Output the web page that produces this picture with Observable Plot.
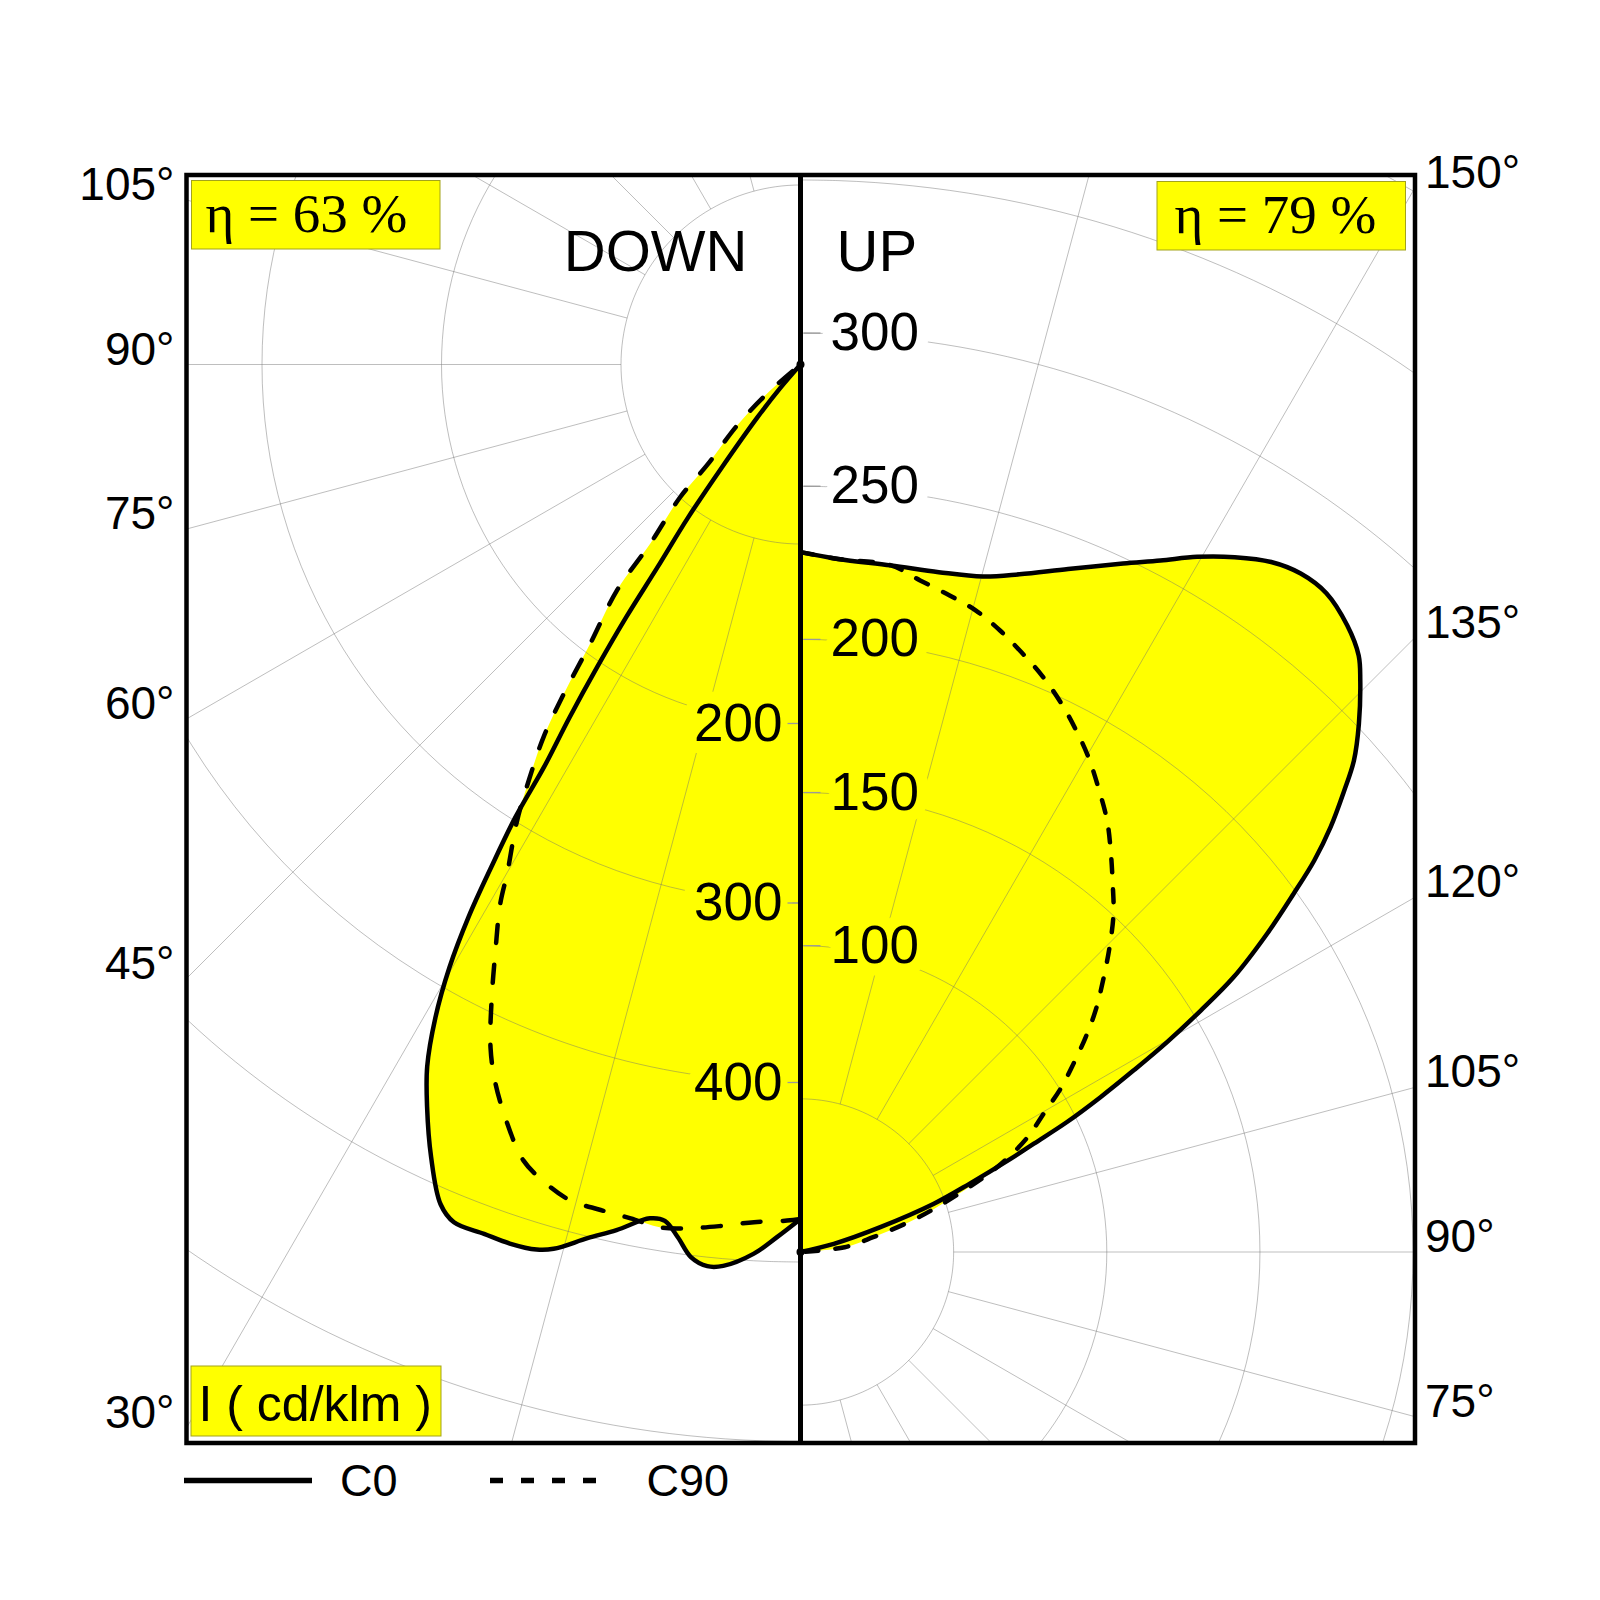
<!DOCTYPE html>
<html>
<head>
<meta charset="utf-8">
<script src="https://cdn.jsdelivr.net/npm/d3@7"></script>
<script src="https://cdn.jsdelivr.net/npm/@observablehq/plot@0.6"></script>
<style>
  html, body { margin: 0; padding: 0; background: #ffffff; }
  svg { display: block; }
</style>
</head>
<body>
<div id="chart"></div>
<script>
// ---------------- DATA (angle from nadir in degrees, intensity in cd/klm) ----------------
// DOWN half, plane C0 (solid)
const downC0Angles = [0, 1.5, 3.0, 4.9, 5.9, 7.0, 8.0, 9.0, 10.0, 12.0, 13.7, 15.6, 16.6, 18.3, 20.0, 22.0, 23.2, 25.0, 26.7, 28.0, 29.2, 30.2, 31.0, 31.6, 32.2, 32.5, 33.2, 33.9, 34.6, 35.2, 36.3, 37.4, 39.2, 40.8, 42.0];
const downC0Values = [476, 486, 496, 504, 505, 501, 491, 483, 483, 493, 501, 511.5, 514.5, 515.8, 515.4, 515.4, 509, 487, 463, 443, 417, 389, 359, 329, 298, 266, 235, 203, 171, 138, 106, 72, 38, 17, 0];
// DOWN half, plane C90 (dashed)
const downC90Angles = [0, 0.9, 3.1, 5.3, 7.25, 9.2, 11.25, 13.3, 15.4, 17.2, 19.2, 21.1, 23.0, 24.4, 25.9, 27.5, 29.1, 30.0, 31.8, 33.2, 34.6, 35.7, 37.0, 39.1, 40.0, 42.2, 42.9, 46.1, 49.0, 52];
const downC90Values = [476, 477, 478.5, 482, 485, 487, 485, 484, 483, 478, 469.5, 453.5, 435, 418, 394, 368, 344, 326.5, 300, 276, 252, 226, 194.5, 162, 130, 100, 76, 49, 25, 0];
// UP half, plane C0 (solid)
const upC0Angles = [180, 176.9, 172.5, 168.5, 164.9, 162.1, 158.6, 154.9, 152.5, 150.3, 148.0, 145.7, 143.6, 141.4, 138.9, 136.9, 135.6, 133.4, 131.6, 130.3, 128.7, 127.3, 126.0, 124.3, 122.4, 121.1, 119.8, 118.6, 117.3, 116.0, 114.9, 113.9, 112.0, 109.9, 107.3, 103.8, 100];
const upC0Values = [228.5, 226.6, 226.1, 226.5, 228.4, 232.5, 239.5, 248.2, 254.5, 261.3, 267.5, 272.7, 275.2, 275.2, 271.5, 266.7, 261.2, 250.9, 241.6, 232.7, 221.7, 210.8, 199.0, 184.4, 167.5, 152.6, 137.9, 123.9, 110.2, 96.8, 84.0, 75.0, 59.6, 46.3, 27.3, 11.2, 0];
// UP half, plane C90 (dashed)
const upC90Angles = [180, 176.9, 172.5, 169.9, 167.2, 164.7, 162.2, 159.8, 157.3, 154.7, 152.3, 149.8, 147.1, 144.6, 142.3, 139.7, 137.2, 134.6, 131.9, 129.3, 127.0, 124.6, 122.1, 120.0, 116.8, 114.5, 112.4, 107.9, 105.1, 101.5, 96.2, 90];
const upC90Values = [228.5, 226.6, 226.1, 222.7, 219.8, 217.1, 213.1, 208.7, 204.1, 198.6, 193, 186.9, 179.5, 172.8, 165.6, 157.6, 150.4, 141.7, 132.7, 124.5, 116.6, 108.3, 100.2, 92.5, 83, 74.7, 65.7, 45.8, 35.4, 24.2, 14.5, 0];

// grid / tick labels
const downRings = [100, 200, 300, 400, 500, 600, 700];
const upRings = [50, 100, 150, 200, 250, 300, 350, 400];
const spokeAngles = [0, 15, 30, 45, 60, 75, 90, 105, 120, 135, 150, 165, 180];
const downTickValues = [200, 300, 400];
const upTickValues = [100, 150, 200, 250, 300];
const downAngleLabels = [105, 90, 75, 60, 45, 30];
const upAngleLabels = [150, 135, 120, 105, 90, 75];
const etaDown = "η = 63 %";
const etaUp = "η = 79 %";
const unitLabel = "I ( cd/klm )";
const legendItems = ["C0", "C90"];

// ---------------- LAYOUT ----------------
const W = 1600, H = 1600;
const frame = {left: 186, right: 1414.5, top: 174.5, bottom: 1442.5};
const axisX = 800;
const downPole = {x: 800, y: 364, k: 1.795};     // px per cd/klm
const upPole = {x: 800, y: 1251.5, k: 3.063};
const rad = d => d * Math.PI / 180;
const downPt = (a, I) => ({x: downPole.x - I * downPole.k * Math.sin(rad(a)), y: downPole.y + I * downPole.k * Math.cos(rad(a))});
const upPt = (a, I) => ({x: upPole.x + I * upPole.k * Math.sin(rad(a)), y: upPole.y + I * upPole.k * Math.cos(rad(a))});

const mk = (angles, values, f) => angles.map((a, i) => ({angle: a, I: values[i], ...f(a, values[i])}));
const dC0 = mk(downC0Angles, downC0Values, downPt);
const dC90 = mk(downC90Angles, downC90Values, downPt);
const uC0 = mk(upC0Angles, upC0Values, upPt);
const uC90 = mk(upC90Angles, upC90Values, upPt);

// grid rings
const ringPts = [];
for (const I of downRings) for (let a = 0; a <= 180; a += 2) ringPts.push({ring: "d" + I, ...downPt(a, I)});
for (const I of upRings) for (let a = 0; a <= 180; a += 2) ringPts.push({ring: "u" + I, ...upPt(a, I)});
// spokes
const spokes = [];
for (const a of spokeAngles) {
  const p1 = downPt(a, downRings[0]), p2 = downPt(a, 900);
  spokes.push({x1: p1.x, y1: p1.y, x2: p2.x, y2: p2.y});
  const q1 = upPt(a, upRings[0]), q2 = upPt(a, 600);
  spokes.push({x1: q1.x, y1: q1.y, x2: q2.x, y2: q2.y});
}
// value labels on the vertical axis
const yellow = "#ffff00";
const downLabels = downTickValues.map(v => ({v, label: String(v), y: downPt(0, v).y, inside: v < downC0Values[0]}));
const upLabels = upTickValues.map(v => ({v, label: String(v), y: upPt(180, v).y, inside: v < upC0Values[0]}));
// angle labels at the frame edges
const leftAngle = downAngleLabels.map(a => ({label: a + "°", y: downPt(a, (axisX - frame.left) / (downPole.k * Math.sin(rad(a)))).y}));
const rightAngle = upAngleLabels.map(a => ({label: a + "°", y: upPt(a, (frame.right - axisX) / (upPole.k * Math.sin(rad(a)))).y}));

const grid = {stroke: "#6e6e6e", strokeOpacity: 0.45, strokeWidth: 1, clip: true};
const sans = "'Liberation Sans', Arial, Helvetica, sans-serif";
const serif = "'Liberation Serif', 'Times New Roman', serif";

const boxes = [
  {x1: 191.5, x2: 440, y1: 180.5, y2: 249},
  {x1: 1157, x2: 1405.5, y1: 181.5, y2: 250},
  {x1: 191, x2: 441, y1: 1366, y2: 1436}
];

const chart = Plot.plot({
  width: W, height: H,
  marginLeft: frame.left, marginRight: W - frame.right,
  marginTop: frame.top, marginBottom: H - frame.bottom,
  x: {domain: [frame.left, frame.right], axis: null},
  y: {domain: [frame.bottom, frame.top], axis: null},
  style: {fontFamily: sans, background: "#ffffff", color: "black", overflow: "visible"},
  marks: [
    // fills (union of both planes)
    Plot.line(dC0, {x: "x", y: "y", fill: yellow, stroke: "none", curve: "catmull-rom"}),
    Plot.line(dC90, {x: "x", y: "y", fill: yellow, stroke: "none", curve: "catmull-rom"}),
    Plot.line(uC0, {x: "x", y: "y", fill: yellow, stroke: "none", curve: "catmull-rom"}),
    Plot.line(uC90, {x: "x", y: "y", fill: yellow, stroke: "none", curve: "catmull-rom"}),
    // polar grid
    Plot.line(ringPts, {x: "x", y: "y", z: "ring", curve: "catmull-rom", ...grid}),
    Plot.link(spokes, {x1: "x1", y1: "y1", x2: "x2", y2: "y2", ...grid}),
    // boxes
    Plot.rect(boxes, {x1: "x1", x2: "x2", y1: "y1", y2: "y2", fill: yellow, stroke: "#a3a31a", strokeWidth: 1}),
    // intensity labels with halo
    Plot.text(downLabels.filter(d => d.inside), {x: axisX - 18, y: d => d.y + 17, text: "label", textAnchor: "end", lineAnchor: "bottom", fontSize: 53, fontFamily: sans, fill: "black", stroke: yellow, strokeWidth: 24, strokeLinejoin: "round", paintOrder: "stroke"}),
    Plot.text(upLabels.filter(d => d.inside), {x: axisX + 30, y: d => d.y + 17, text: "label", textAnchor: "start", lineAnchor: "bottom", fontSize: 53, fontFamily: sans, fill: "black", stroke: yellow, strokeWidth: 24, strokeLinejoin: "round", paintOrder: "stroke"}),
    Plot.text(upLabels.filter(d => !d.inside), {x: axisX + 30, y: d => d.y + 17, text: "label", textAnchor: "start", lineAnchor: "bottom", fontSize: 53, fontFamily: sans, fill: "black", stroke: "#ffffff", strokeWidth: 24, strokeLinejoin: "round", paintOrder: "stroke"}),
    // ticks
    Plot.link(downLabels, {x1: axisX - 13, x2: axisX - 2, y1: "y", y2: "y", stroke: "#9a9a9a", strokeWidth: 1.3}),
    Plot.link(upLabels, {x1: axisX + 3, x2: axisX + 20, y1: "y", y2: "y", stroke: "#9a9a9a", strokeWidth: 1.3}),
    // curves
    Plot.line(dC0, {x: "x", y: "y", stroke: "black", strokeWidth: 4.5, curve: "catmull-rom", strokeLinejoin: "round"}),
    Plot.line(dC90, {x: "x", y: "y", stroke: "black", strokeWidth: 4.5, strokeDasharray: "18,22", curve: "catmull-rom"}),
    Plot.line(uC0, {x: "x", y: "y", stroke: "black", strokeWidth: 4.5, curve: "catmull-rom", strokeLinejoin: "round"}),
    Plot.line(uC90, {x: "x", y: "y", stroke: "black", strokeWidth: 4.5, strokeDasharray: "13,17", curve: "catmull-rom"}),
    // axis and frame
    Plot.ruleX([axisX], {stroke: "black", strokeWidth: 5}),
    Plot.frame({stroke: "black", strokeWidth: 4.5}),
    Plot.dot([downPole, upPole], {x: "x", y: "y", r: 4, fill: "black", stroke: "none"}),
    // texts
    Plot.text([etaDown], {x: 205, y: 231, text: d => d, textAnchor: "start", lineAnchor: "bottom", fontSize: 55, fontFamily: serif, fill: "black"}),
    Plot.text([etaUp], {x: 1174, y: 232, text: d => d, textAnchor: "start", lineAnchor: "bottom", fontSize: 55, fontFamily: serif, fill: "black"}),
    Plot.text(["DOWN"], {x: 747, y: 270, text: d => d, textAnchor: "end", lineAnchor: "bottom", fontSize: 58, fontFamily: sans, fill: "black"}),
    Plot.text(["UP"], {x: 836, y: 270, text: d => d, textAnchor: "start", lineAnchor: "bottom", fontSize: 58, fontFamily: sans, fill: "black"}),
    Plot.text(leftAngle, {x: frame.left - 12, y: "y", text: "label", textAnchor: "end", lineAnchor: "bottom", fontSize: 46, fontFamily: sans, fill: "black"}),
    Plot.text(rightAngle, {x: frame.right + 10, y: "y", text: "label", textAnchor: "start", lineAnchor: "bottom", fontSize: 46, fontFamily: sans, fill: "black"}),
    Plot.text([unitLabel], {x: 198, y: 1420, text: d => d, textAnchor: "start", lineAnchor: "bottom", fontSize: 50, fontFamily: sans, fill: "black"}),
    // legend
    Plot.link([legendItems[0]], {x1: 183.5, x2: 311.5, y1: 1480, y2: 1480, stroke: "black", strokeWidth: 5.5}),
    Plot.link([legendItems[1]], {x1: 489.5, x2: 597, y1: 1480, y2: 1480, stroke: "black", strokeWidth: 5.5, strokeDasharray: "13,18"}),
    Plot.text(legendItems, {x: (d, i) => i === 0 ? 339.5 : 646, y: 1495, text: d => d, textAnchor: "start", lineAnchor: "bottom", fontSize: 45, fontFamily: sans, fill: "black"})
  ]
});
document.getElementById("chart").appendChild(chart);
</script>
</body>
</html>
